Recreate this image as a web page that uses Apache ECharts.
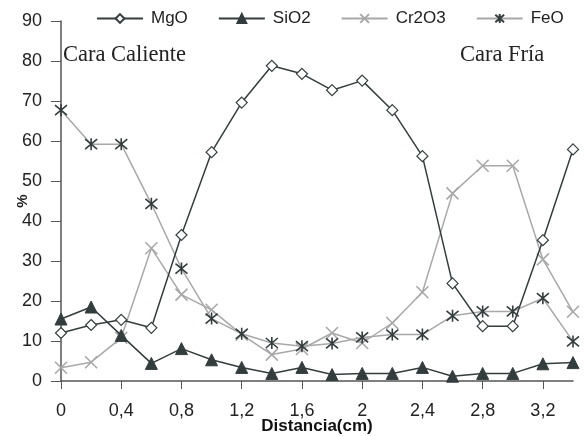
<!DOCTYPE html>
<html lang="es">
<head>
    <meta charset="UTF-8">
    <title>Perfil de composición</title>
    <script src="https://cdn.jsdelivr.net/npm/echarts@6.0.0/dist/echarts.min.js"></script>
</head>
<body style="margin:0">
    <div id="main" style="width: 585px; height: 436px; background-color: #fff;"></div>
    <script>
        // distancias (cm)
        const distancia = ['0', '0,2', '0,4', '0,6', '0,8', '1', '1,2', '1,4', '1,6', '1,8',
                           '2', '2,2', '2,4', '2,6', '2,8', '3', '3,2', '3,4'];

        // % de cada óxido
        const mgo   = [12.0, 14.0, 15.3, 13.3, 36.5, 57.2, 69.6, 78.8, 76.8, 72.7, 75.1, 67.7, 56.2, 24.4, 13.7, 13.7, 35.2, 57.9];
        const sio2  = [15.5, 18.5, 11.4, 4.4, 8.1, 5.3, 3.4, 1.9, 3.4, 1.6, 1.9, 1.9, 3.4, 1.2, 1.9, 1.9, 4.3, 4.6];
        const cr2o3 = [3.3, 4.7, 10.8, 33.2, 21.6, 17.8, 11.6, 6.6, 8.0, 12.0, 9.5, 14.5, 22.2, 46.9, 53.8, 53.8, 30.4, 17.3];
        const feo   = [67.7, 59.2, 59.2, 44.3, 28.1, 15.6, 11.8, 9.5, 8.7, 9.4, 10.9, 11.6, 11.6, 16.3, 17.4, 17.4, 20.7, 9.9];

        const oscuro = '#343d3d';
        const claro = '#a8a8a8';

        const simboloX = 'path://M0,0L10,10M10,0L0,10';
        const simboloAsterisco = 'path://M0,0L10,10M10,0L0,10M5,-1L5,11';

        const myChart = echarts.init(document.getElementById('main'));

        const option = {
            animation: false,
            textStyle: { fontFamily: 'Liberation Sans, Arial, sans-serif' },
            legend: {
                top: 5,
                left: 91,
                itemGap: 30,
                itemWidth: 46,
                itemHeight: 11,
                textStyle: { fontSize: 17, color: '#222', padding: [0, 0, 0, 3] },
                data: ['MgO', 'SiO2', 'Cr2O3', 'FeO']
            },
            grid: { left: 61, right: 12, top: 21, bottom: 55, outerBoundsMode: 'none' },
            xAxis: {
                type: 'category',
                data: distancia,
                boundaryGap: false,
                name: 'Distancia(cm)',
                nameLocation: 'middle',
                nameGap: 37,
                nameMoveOverlap: false,
                nameTextStyle: { fontSize: 17, fontWeight: 'bold', color: '#111' },
                axisLine: { lineStyle: { color: '#555', width: 1.5 } },
                axisTick: { interval: 1, length: 8, lineStyle: { color: '#555' } },
                axisLabel: { interval: 1, fontSize: 18, color: '#222', margin: 21 }
            },
            yAxis: {
                type: 'value',
                min: 0,
                max: 90,
                interval: 10,
                name: '%',
                nameLocation: 'middle',
                nameGap: 31,
                nameRotate: 90,
                nameMoveOverlap: false,
                nameTextStyle: { fontSize: 15, fontWeight: 'bold', color: '#222' },
                splitLine: { show: false },
                axisLine: { show: true, lineStyle: { color: '#555', width: 1.5 } },
                axisTick: { show: true, length: 10, lineStyle: { color: '#555' } },
                axisLabel: { fontSize: 18, color: '#222', margin: 19 }
            },
            graphic: [
                {
                    type: 'text', left: 63, top: 44,
                    style: { text: 'Cara Caliente', fontSize: 22.5, fontFamily: 'Liberation Serif, Times New Roman, serif', fill: '#222' }
                },
                {
                    type: 'text', left: 460, top: 44,
                    style: { text: 'Cara Fría', fontSize: 22.5, fontFamily: 'Liberation Serif, Times New Roman, serif', fill: '#222' }
                }
            ],
            series: [
                {
                    name: 'MgO', type: 'line', data: mgo,
                    symbol: 'diamond', symbolSize: 11,
                    lineStyle: { color: oscuro, width: 1.5 },
                    itemStyle: { color: '#fff', borderColor: oscuro, borderWidth: 1.2 },
                    z: 4
                },
                {
                    name: 'SiO2', type: 'line', data: sio2,
                    symbol: 'triangle', symbolSize: 12,
                    lineStyle: { color: oscuro, width: 1.5 },
                    itemStyle: { color: oscuro, borderColor: oscuro, borderWidth: 1 },
                    z: 3
                },
                {
                    name: 'Cr2O3', type: 'line', data: cr2o3,
                    symbol: simboloX, symbolSize: 12,
                    lineStyle: { color: claro, width: 1.5 },
                    itemStyle: { color: claro, borderColor: claro, borderWidth: 1.6 },
                    z: 2
                },
                {
                    name: 'FeO', type: 'line', data: feo,
                    symbol: simboloAsterisco, symbolSize: 12,
                    lineStyle: { color: claro, width: 1.5 },
                    itemStyle: { color: oscuro, borderColor: oscuro, borderWidth: 1.6 },
                    z: 2
                }
            ]
        };

        myChart.setOption(option);
    </script>
</body>
</html>
